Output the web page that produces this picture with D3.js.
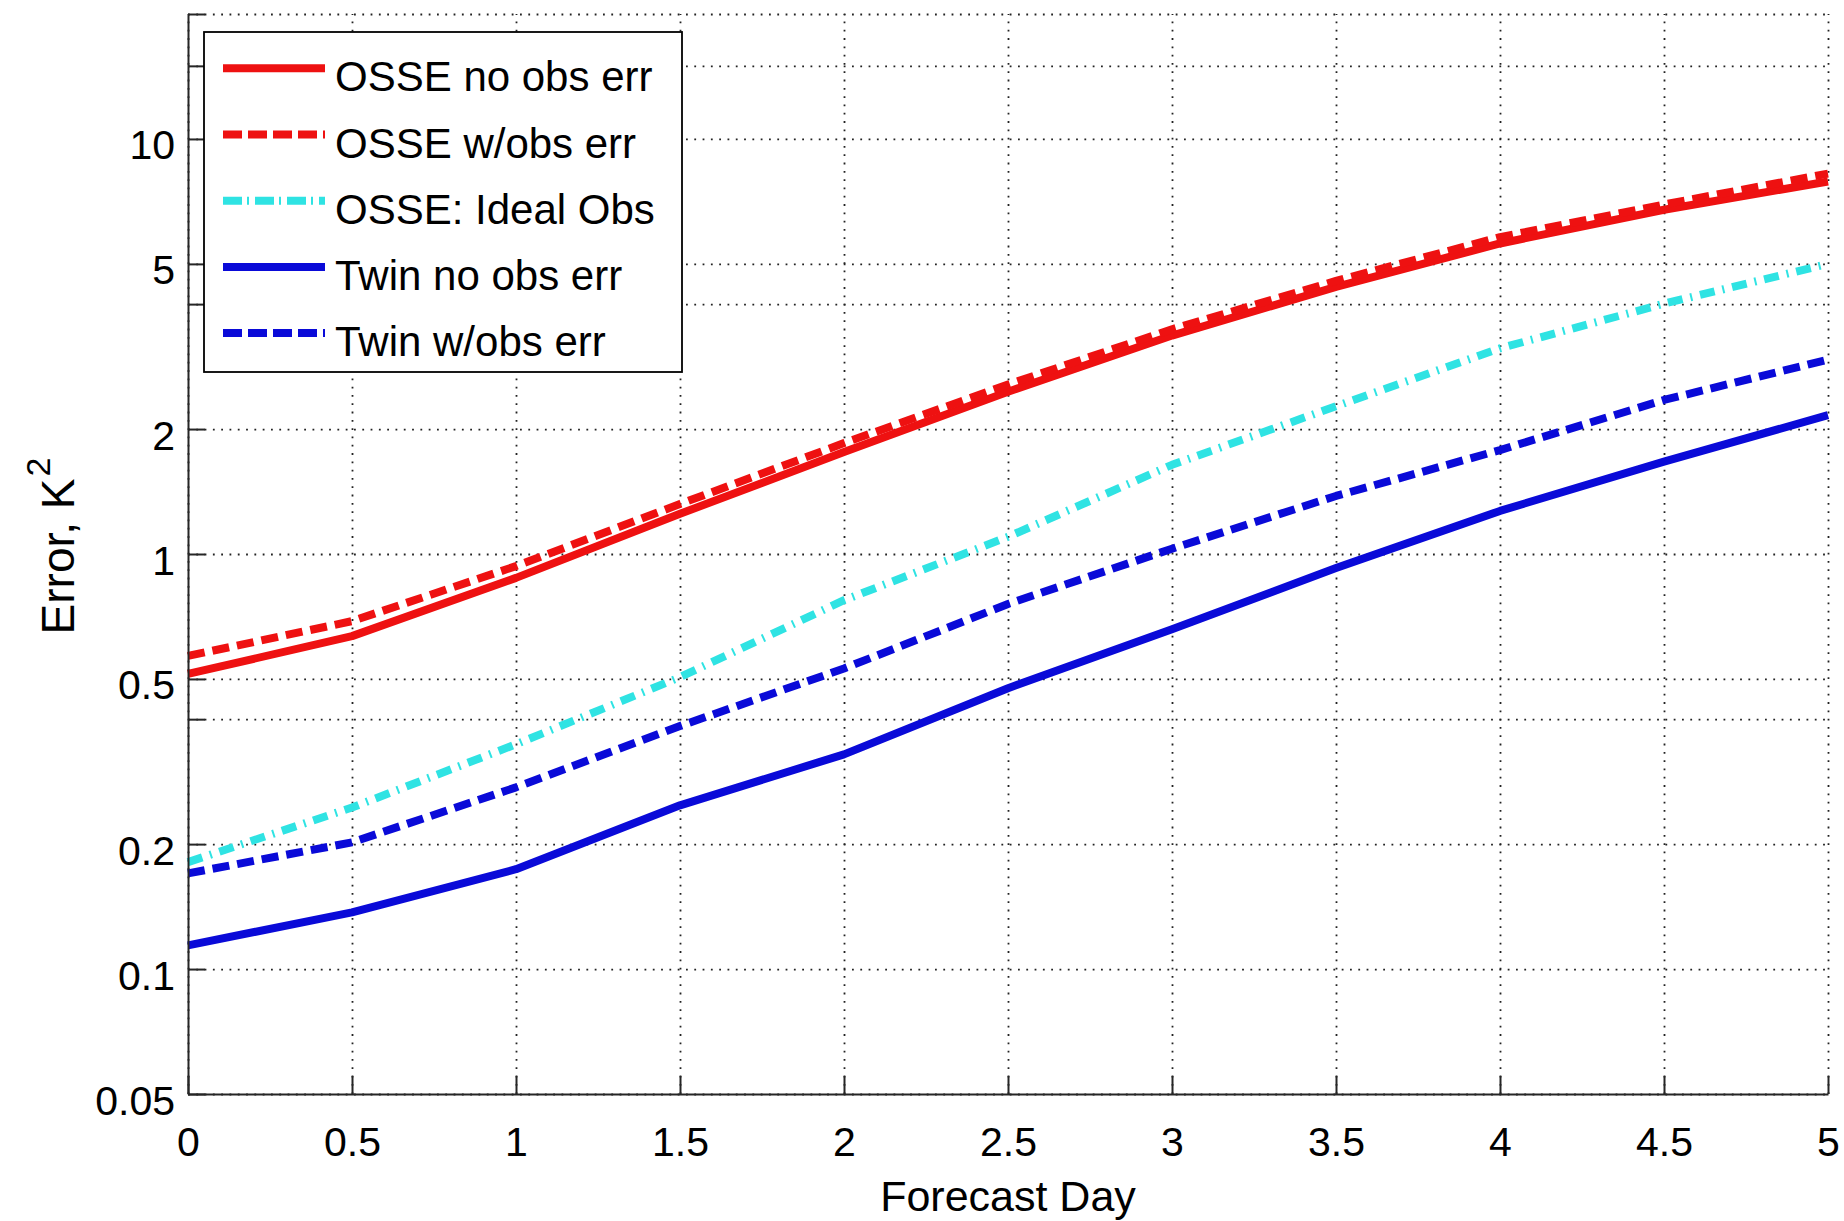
<!DOCTYPE html>
<html><head><meta charset="utf-8">
<script src="https://cdn.jsdelivr.net/npm/d3@7"></script>
<style>
body{margin:0;background:#fff}
text{font-family:"Liberation Sans",Arial,Helvetica,sans-serif;fill:#000}
</style></head>
<body><svg id="c" width="1844" height="1221"></svg>
<script>
// ---- data ----
const forecastDays = [0, 0.5, 1, 1.5, 2, 2.5, 3, 3.5, 4, 4.5, 5];
const osseNoObsErr  = [0.514, 0.634, 0.876, 1.25, 1.76, 2.46, 3.36, 4.40, 5.60, 6.75, 7.90];
const osseWObsErr   = [0.568, 0.689, 0.935, 1.32, 1.85, 2.56, 3.48, 4.55, 5.80, 6.95, 8.25];
const osseIdealObs  = [0.181, 0.245, 0.348, 0.505, 0.774, 1.10, 1.64, 2.27, 3.13, 4.01, 5.00];
const twinNoObsErr  = [0.114, 0.137, 0.174, 0.248, 0.329, 0.475, 0.659, 0.925, 1.27, 1.67, 2.16];
const twinWObsErr   = [0.170, 0.202, 0.274, 0.385, 0.530, 0.758, 1.03, 1.38, 1.78, 2.35, 2.94];
const seriesNames   = ["OSSE no obs err", "OSSE w/obs err", "OSSE: Ideal Obs", "Twin no obs err", "Twin w/obs err"];
const yTicks      = [0.05, 0.1, 0.2, 0.4, 0.5, 1, 2, 4, 5, 10, 15, 20];
const yTickLabels = ["0.05", "0.1", "0.2", "", "0.5", "1", "2", "", "5", "10", "", ""];
const xTicks      = [0, 0.5, 1, 1.5, 2, 2.5, 3, 3.5, 4, 4.5, 5];
const xTickLabels = ["0", "0.5", "1", "1.5", "2", "2.5", "3", "3.5", "4", "4.5", "5"];
const xLabel = "Forecast Day";

// ---- styles ----
const seriesValues = [osseNoObsErr, osseWObsErr, osseIdealObs, twinNoObsErr, twinWObsErr];
const seriesColors = ["#ee1111", "#ee1111", "#2fe3e3", "#0a0ad8", "#0a0ad8"];
const seriesDash   = [null, "17,8", "15,8,2,8", null, "17,8"];

const L = 188, R = 1828, T = 14, B = 1094;
const svg = d3.select("#c");
const x = d3.scaleLinear().domain([0, 5]).range([L, R]);
const y = d3.scaleLog().domain([0.05, 20]).range([B, T]);

// grid (dotted)
const grid = svg.append("g");
grid.append("g").attr("transform", `translate(${L},0)`)
  .call(d3.axisLeft(y).tickValues(yTicks).tickSize(-(R - L)).tickFormat(""))
  .call(g => g.select(".domain").remove())
  .call(g => g.selectAll("line").attr("stroke", "#222").attr("stroke-width", 1.8).attr("stroke-dasharray", "1.8,6.5"));
grid.append("g").attr("transform", `translate(0,${B})`)
  .call(d3.axisBottom(x).tickValues(xTicks).tickSize(-(B - T)).tickFormat(""))
  .call(g => g.select(".domain").remove())
  .call(g => g.selectAll("line").attr("stroke", "#222").attr("stroke-width", 1.8).attr("stroke-dasharray", "1.8,6.5"));

// data lines
const line = d3.line().x((d, i) => x(forecastDays[i])).y(d => y(d));
seriesValues.forEach((vals, k) => {
  const p = svg.append("path").datum(vals).attr("d", line)
    .attr("fill", "none").attr("stroke", seriesColors[k]).attr("stroke-width", 8)
    .attr("stroke-linejoin", "round");
  if (seriesDash[k]) p.attr("stroke-dasharray", seriesDash[k]);
});

// axes
const ax = svg.append("g");
const yAx = ax.append("g").attr("transform", `translate(${L},0)`)
  .call(d3.axisLeft(y).tickValues(yTicks).tickSizeInner(-17).tickSizeOuter(0)
    .tickFormat((d, i) => yTickLabels[i]).tickPadding(13));
yAx.select(".domain").attr("stroke", "#262626").attr("stroke-width", 2);
yAx.selectAll(".tick line").attr("stroke", "#262626").attr("stroke-width", 2);
yAx.selectAll(".tick text").attr("font-size", 41).attr("font-family", null)
  .attr("x", -13).attr("dy", null).attr("y", 20).attr("fill", "#000");

const xAx = ax.append("g").attr("transform", `translate(0,${B})`)
  .call(d3.axisBottom(x).tickValues(xTicks).tickSizeInner(-18).tickSizeOuter(0)
    .tickFormat((d, i) => xTickLabels[i]));
xAx.select(".domain").attr("stroke", "#262626").attr("stroke-width", 2);
xAx.selectAll(".tick line").attr("stroke", "#262626").attr("stroke-width", 2);
xAx.selectAll(".tick text").attr("font-size", 41).attr("font-family", null)
  .attr("dy", null).attr("y", 62).attr("fill", "#000");
svg.selectAll(".tick text").attr("fill", "#000");

// axis labels
svg.append("text").attr("x", (L + R) / 2).attr("y", 1211).attr("text-anchor", "middle")
  .attr("font-size", 43).text(xLabel);
const yl = svg.append("text").attr("transform", "translate(74,546) rotate(-90)")
  .attr("text-anchor", "middle").attr("font-size", 46);
yl.append("tspan").text("Error, K");
yl.append("tspan").attr("font-size", 34).attr("dy", -24).attr("dx", 2).text("2");

// legend
const lg = svg.append("g");
lg.append("rect").attr("x", 204).attr("y", 32).attr("width", 478).attr("height", 340)
  .attr("fill", "#fff").attr("stroke", "#000").attr("stroke-width", 1.8);
seriesNames.forEach((name, k) => {
  const ry = 68.3 + 66.2 * k;
  const l = lg.append("line").attr("x1", 223).attr("x2", 325).attr("y1", ry).attr("y2", ry)
    .attr("stroke", seriesColors[k]).attr("stroke-width", 8);
  if (seriesDash[k]) l.attr("stroke-dasharray", seriesDash[k] === "17,8" ? "19,6" : "19,5,2,6");
  lg.append("text").attr("x", 335).attr("y", ry + 23).attr("font-size", 42).text(name);
});
</script>
</body></html>
